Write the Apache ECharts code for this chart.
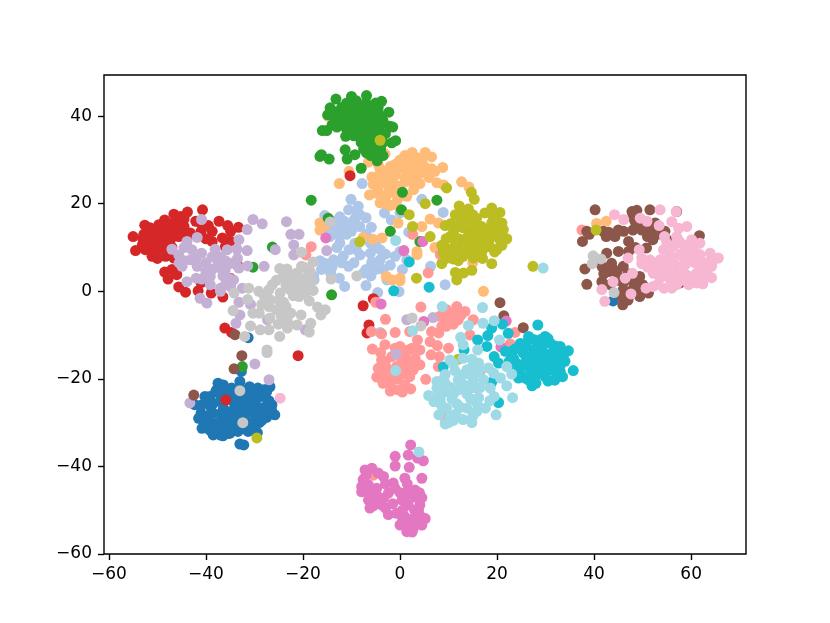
<!DOCTYPE html>
<html><head><meta charset="utf-8">
<script src="https://cdn.jsdelivr.net/npm/echarts@6/dist/echarts.min.js"></script>
<style>html,body{margin:0;background:#fff}#c{width:830px;height:623px}</style></head>
<body><div id="c"></div>
<script>
const xTicks=[-60,-40,-20,0,20,40,60];
const yTicks=[-60,-40,-20,0,20,40];
const blue=[[-37.5,-21],[-36.4,-21.4],[-33,-20.6],[-32.7,-18.3],[-34.7,-22.1],[-40.2,-24],[-42.3,-25.9],[-41,-27.8],[-38.5,-25.6],[-39.2,-24],[-36.4,-23.7],[-33.7,-24.4],[-31,-21.8],[-29.3,-22.1],[-26.8,-21.8],[-28.2,-24],[-26.4,-25.9],[-25.8,-28.2],[-27.5,-28.8],[-29.6,-26.3],[-31.6,-25.6],[-34,-26.3],[-36.4,-26.7],[-38.5,-27.8],[-40.5,-29.7],[-40.8,-31.3],[-38.8,-30.1],[-36,-29],[-33.7,-29.4],[-30.2,-30.1],[-28.9,-28.2],[-31.6,-27.8],[-38.5,-32.8],[-37.1,-32.8],[-35,-32.4],[-33.4,-32],[-31.3,-32],[-29.4,-32.3],[-36.8,-30.9],[-39.2,-31.7],[-33,-34.9],[-32.2,-35.1],[-29.4,-23.7],[-31.2,-23.7],[-37.8,-22.5],[43.9,-2.2],[-31.3,-10.6],
[-40,-25.5],[-38,-23],[-37,-25],[-35,-24],[-35,-23],[-32.5,-22.5],[-32,-24],[-30,-23],[-28,-22.5],[-27,-25],[-28,-26.5],[-30.5,-25],[-32.5,-26],[-33,-27.5],[-35,-27.5],[-37,-28],[-39.5,-28.5],[-37.5,-30],[-35,-30.5],[-34.5,-28.5],[-32,-29.5],[-30,-28],[-29,-30],[-27,-27.5],[-41.5,-29],[-40,-30.5],[-37,-31.5],[-35,-31.5],[-32.5,-31],[-30.5,-31.5],[-31,-30],[-39,-26.5],[-36.5,-33],[-33,-30.5],[-34.5,-25],[-30,-27],[-27.5,-23],[-35.5,-32.5],[-41,-26],[-38,-31.5],[-29.5,-24.5],[-33,-23],[-28.5,-29.5],[-26.5,-27]];
const lightBlue=[[-7.8,24.6],[-10.1,21],[4.5,21],[8.9,18],[-15.5,17.3],[-10.6,18.6],[-8.6,19.4],[-12.4,17],[-7,16.8],[-9.4,16.4],[-5.9,14.6],[-11.7,14.8],[-13.7,14.8],[-15.5,14],[-12.4,12.6],[-12.4,11],[-9,9.5],[-11.7,8],[-13.7,7.2],[-15.5,6.4],[-16.2,5],[-10.6,5.7],[-6.1,11],[-6.1,8.7],[-4.1,9.5],[-5.8,6.4],[-4.1,7.2],[-2,6],[-7.5,4.2],[-3.2,17.9],[-1.8,16.3],[1.8,13.5],[0,9.1],[1.4,7.2],[6.3,5.7],[0,17.9],[-1.2,23],[-9.3,11],[-8.3,17.5],[-10,13.7],[-8.3,14.8],[-17.8,3.4],[-14.3,4.2],[-15.7,5.3],[-17.7,2.6],[-11.4,1.1],[-7,1.3],[-4.6,-0.3],[-0.2,-0.1],[9.3,1.5],[-4.1,-9.4],[-2.7,2.6],[-7,5],[-5.8,6.7],[-8.2,8.3],
[-13.5,16],[-11.5,16],[-10,15.5],[-8.8,18],[-13,13],[-11,13],[-7,13],[-14.5,12.5],[-13,10],[-10.5,9.5],[-9.5,6.5],[-12,6.5],[-14,5.5],[-16.5,7],[-5,5],[-5,10.5],[-3,8.5],[-3.5,5],[-6,3.5],[0.5,5],[-12.5,3],[-1,8]];
const lightOrange=[[-12.5,24.6],[-10.5,27.4],[-6.5,29.5],[-3.1,31.4],[2.5,31.7],[5.2,31.7],[6.5,30.7],[8.8,28.3],[0,30],[1.4,30.2],[-4.1,27.8],[-5.8,26.1],[-5.5,24.4],[-6.3,22],[-4.1,20.2],[-2,19.6],[-4.8,22.4],[-2.7,22],[-3.4,26.3],[-2,25.5],[-0.7,27.8],[0.7,28.1],[2,27],[3.4,26.3],[4.1,24.6],[2.8,23.2],[1.4,21.7],[0,24],[-2.4,24],[-4.1,24.8],[-3.1,21],[-1,19.8],[2,29.3],[4.5,29.7],[7.2,27.4],[7.6,24.8],[9,24.3],[12.7,25],[14.2,23.8],[-0.4,15.6],[4.5,14.8],[6.2,16.5],[7.9,15.6],[-5.6,11.9],[-3.7,12.2],[-7.6,12.3],[3.5,9.1],[7.2,10],[15,6.6],[-2.8,3.4],[-16.5,15.6],[-15.2,15.2],[-16.5,14],[3.5,8.4],[0,3],[-14.9,40],[17.2,0],[0,2.4],[-1.6,2.6],[40.5,15.5],[42.5,16],
[1,31],[3.5,30.5],[-1,29],[1,29],[3,28.5],[5,28.5],[6.5,28],[-2,28.5],[-3,27.5],[-1,26.5],[1,26],[-1.5,24.8],[1,25],[2.5,25],[-5,26],[-4.5,23],[-1,22.5],[-0.5,21],[-3,20],[6,26],[5,27],[3.5,27.8],[-4.5,29]];
const green=[[-13.2,43.9],[-10,44.5],[-6.9,44.7],[-3.8,43.4],[-2.3,40.9],[-14.4,41.9],[-14.9,40.3],[-16,36.7],[-15.1,36.7],[-2.1,37.7],[-1.5,37.5],[-11.2,35.4],[-1.7,33.9],[-0.9,34.4],[-11.3,32.3],[-16.5,30.8],[-16.2,31.2],[-14.6,30.2],[-10.9,30.2],[-9.3,31.2],[-6.9,31.6],[-4.7,29.8],[-8,28.1],[-12,42],[-10,42],[-8,42],[-6,42],[-4.5,42],[-13.5,40],[-12,40],[-10.5,40],[-9,40],[-7,40],[-5.5,40],[-4,40],[-14,38],[-12,38],[-10.5,38],[-9,38],[-7.5,38],[-6,38],[-4,38],[-8.5,36],[-7,36],[-5.5,36],[-4,36],[-8,34],[-6.5,34],[-5,34],[-3.5,34],[-7.5,32.5],[-5.5,32.5],[-4,32.5],[-18.3,20.8],[-14.8,16.7],[0.5,22.6],[7.6,20.8],[0.3,18.6],[-2,13.7],[4.1,11.4],[-26.3,10.1],[-30.3,5.5],[-14.1,-0.8],[-32.5,-17.2],
[-13,41],[-11,43],[-9,43.5],[-7,43],[-5,43],[-11,41],[-9.5,41],[-8,41],[-6,41],[-4.5,41],[-13,39],[-11.5,39],[-10,39],[-8,39],[-6.5,39],[-5,39],[-3.5,39],[-13,37.5],[-11,37],[-9.5,37],[-7.8,37],[-6,37],[-4.5,37],[-9.5,35.5],[-7.5,35],[-6,35],[-4.5,35],[-3,36],[-7,33],[-6,31],[-5,31],[-3.5,31],[-4.5,30.5]];
const red=[[-55,12.5],[-54.5,9.3],[-52.6,15.1],[-51.1,8],[-49.7,15.2],[-48.5,16.3],[-46.6,17.6],[-43.8,18.1],[-40.7,18.6],[-37.3,16],[-34.9,13.7],[-33.3,14.6],[-38.7,13.7],[-36.6,12.2],[-41,13.7],[-42.1,16],[-45.2,17.1],[-52.8,13],[-53.1,10.6],[-51.8,9.9],[-50.7,13.3],[-49.3,13.3],[-48,14],[-46.3,14.4],[-44.5,14.8],[-43.2,13.3],[-48.7,11],[-50.7,11],[-47.3,11.8],[-45.6,12.5],[-50,9.5],[-48.3,8],[-46.6,7.6],[-38.7,11.4],[-36,10.2],[-48.5,4.4],[-47.8,2.8],[-46,3.8],[-45.6,1],[-44.2,-0.2],[-41.6,0.1],[-38.9,-0.4],[-36.5,-1.3],[-36.1,-8.4],[-34.7,-9.4],[-21,-14.7],[-33.5,6],[-51.8,13],[-49.7,11.8],[-48.7,13.3],[-46.6,12.8],[-52.1,11.8],[-10.3,26.4],[-35.9,-24.8],[-7.6,-3.3],[-5.5,-1.7],[-6.4,-7.7],[-6.8,-9.5],
[-53,12],[-51.5,14.5],[-50,14],[-49,15],[-47.5,15.5],[-46,16],[-44.5,16.5],[-41,15.5],[-47.5,13],[-45,13.5],[-44,12],[-51.5,11],[-49,10],[-47,10],[-52.5,9.5],[-50,7.5],[-47.5,9],[-40,12],[-39.5,15],[-35.5,15],[-35,11.5],[-47,5],[-41,2],[-35,3]];
const lightRed=[[4.3,-3.6],[8.2,-5.7],[9.6,-4.2],[11.7,-3.5],[13.4,-4.6],[10.3,-6.5],[12,-6.5],[15.1,-6.5],[8.6,-8],[6.5,-9.2],[6.2,-11.5],[7.7,-12.4],[10,-13],[3.6,-11.1],[2,-9.2],[-1,-9.4],[-3,-6.4],[-3.8,-9.7],[-5.9,-9.2],[-5.7,-13.2],[-3.1,-12.2],[0,-12.6],[4.1,-13.4],[6.4,-14.5],[8.1,-14.9],[1.7,-13.4],[-3.8,-15.7],[-1.7,-14.9],[0.4,-15.7],[3.1,-15.3],[4.1,-16.8],[-4.5,-17.6],[-2.7,-17.6],[-0.7,-17.2],[1.4,-17.6],[2.7,-18],[-4.8,-19.6],[-3.1,-19.8],[-1.4,-19.4],[0.4,-19],[5.3,-20.1],[-0.4,-22.5],[-2,-22.8],[2.2,-22.3],[1,-21.4],[-2,-21.3],[7.9,-17.2],[14.4,-10],[23.7,-9.4],[22.7,-12],[16.5,-18.3],[15.5,-22],[9.3,-29],[-18.3,10.2],[2.6,13],[5.8,4.2],[8.3,8.4],[15.6,9.5],[-19.4,8.3],[-5,-2.5],[37.5,14],[11,-5],[9.5,-7],[-5.5,-42],
[-4,-14],[-1,-13],[1,-14.5],[2.5,-13],[-3,-16],[1.5,-16],[3,-17],[-3.8,-18.5],[0,-18],[2,-19.5],[-0.5,-20],[-3.5,-21],[0.5,-23],[9,-5],[10.5,-5],[12.5,-5.5],[11,-7.5],[12,-4.5],[9.5,-8],[8,-9.5]];
const lightPurple=[[-40.9,16.4],[-30.3,16.4],[-28.4,15.4],[-31.5,14.1],[-23.4,15.9],[-22.5,13],[-20.8,13],[-21.9,10.6],[-21.9,8.3],[-25.7,9.5],[-15.1,9.3],[-28,5.7],[-29.9,-16.6],[-47,9.6],[-43.9,11.4],[-41.8,12.3],[-45.6,8.3],[-42.9,9.5],[-40.9,8.7],[-44.9,5.7],[-43.2,7.2],[-41.8,5.7],[-43.9,2.2],[-38.7,7.9],[-38.1,9.6],[-37,7.9],[-35.6,9.5],[-33.6,9.6],[-31.5,9.3],[-33.2,11.8],[-34.9,6.4],[-33.2,5.3],[-31.4,5.8],[-38.7,5],[-37,5.3],[-40.9,2.8],[-39.1,3.4],[-35.3,3],[-34.3,2.6],[-39.1,1.5],[-37,0.7],[-34.9,1],[-32.5,0.7],[-41.2,-1.6],[-39.8,-2.7],[-37,0],[-33.2,-2.5],[-30.8,-3],[-33,-5.4],[-33.8,-7.3],[-27.3,-6.5],[-19.5,-8.8],[-27,-20.2],[-43.3,-25.5],[1.4,-6.5],[6.8,-6],[-0.8,-14.3],
[-44.5,10],[-44.5,7],[-42,7.5],[-40,6.5],[-37.5,6.5],[-36,7],[-42,3],[-36.5,3.5],[-33.5,7.5],[-40,4.5],[-36,1.5],[-45.5,6.5],[-39.5,5],[-36,5]];
const brown=[[40.2,18.6],[37.6,11.4],[38.5,13.7],[41.9,13.7],[44.3,12.5],[46.1,13.7],[47.1,11.4],[38.1,5.1],[38.5,1.6],[47.8,18.2],[48.8,18.5],[51.5,18.6],[57,18.2],[49.8,14],[48.4,16],[52.1,11.8],[54.6,13.7],[61.7,12.7],[55,11.8],[42.6,8.7],[45,9.1],[47.1,9.1],[50.8,9.9],[41.6,5.7],[43.6,6.4],[46,5.7],[44.7,4.1],[41.6,2.2],[43.3,1.5],[46,0.4],[48.1,1.9],[49.4,3.4],[48.8,0.7],[49.4,-1.2],[51.2,-0.4],[45.9,-3.1],[45.7,-1.2],[57.7,1.9],[53.9,5.3],[51.5,14],[52.6,15.6],[43,4.5],[46.7,3],[20.6,-2.6],[21.4,-5.6],[25.4,-8.3],[-32.6,-14.7],[-34.2,-17.7],[-42.5,-23.7],[-34,-9.9],[11.8,9.5],
[39,13],[42.5,12.5],[43,13.5],[45,14],[48,14],[49,15.5],[50.5,15],[48,17],[42,4],[44,5],[45,2.5],[47,4],[46,2],[47.5,0],[50,1.5],[48.5,10],[51,12.5],[53,13],[47,-2]];
const pink=[[-15.3,12.2],[0.8,9.3],[4.7,11.4],[-3.9,-2.9],[4.9,-6.9],[21.9,-6.8],[20.8,-12.7],[2.2,-35.1],[1.7,-37.4],[-1,-37.7],[-1,-39.9],[1.9,-40.2],[3.6,-38.1],[4.8,-38.7],[4.5,-42.7],[1,-42.7],[-5.8,-40.4],[-7.2,-40.8],[-3.4,-42.3],[-7.6,-43],[-7.9,-45.8],[-6.5,-44.2],[-4.8,-45],[-1.4,-43.8],[-2.4,-46.1],[-6.5,-47.7],[-4.8,-48],[-6.2,-49.5],[-3.8,-48.8],[-2.4,-51],[-0.7,-50.7],[0.4,-47.7],[3.1,-45.4],[4.5,-47.1],[1.4,-45.8],[1.7,-48.8],[3.8,-49.9],[5.2,-51.9],[4.5,-53.4],[1.4,-54.9],[2.7,-54.2],[0,-53.4],[1,-51.5],[2.7,-51.9],[-4.8,-46.5],[-6.2,-46],[-3.4,-47.3],[-7.9,-44.6],[1.4,-53.4],[4.1,-48.8],[1,-47],
[-7,-42],[-4.5,-41.5],[-6.5,-46],[-5.5,-45.5],[-3,-44],[-1,-45],[-5.5,-49],[-3,-49.5],[-1.5,-48.5],[0,-46],[0.5,-50],[3,-47],[3,-50],[2,-53],[3.5,-53],[4,-51],[2.5,-55],[0.5,-52.5],[4,-46],[1.5,-44]];
const lightPink=[[44.2,17.5],[46.1,16.4],[49.5,16.7],[50.9,16],[53.6,18.6],[56.9,18.2],[53.4,15],[56,15.9],[57.4,14.4],[59.1,14.8],[49.3,9.5],[47,7.6],[49.8,6.3],[47.9,4.1],[46.4,3],[43.9,2.2],[41.6,0.4],[42.2,-2.3],[47.6,-0.6],[50.7,0.7],[52.1,1.1],[49.8,7.6],[51.5,7.2],[52.2,4.1],[57,12.5],[60.1,11.8],[61.8,11],[56.4,10.3],[58.5,10.6],[54.3,9.5],[53.6,7.2],[55.7,8],[57.7,8.4],[59.8,9.1],[61.8,8.4],[63.9,8.7],[65.6,7.6],[56.7,6.1],[58.8,6.1],[60.8,6.5],[62.9,6.5],[64.2,5.7],[55,5],[57,4.1],[59.1,3.7],[61.1,4.1],[63.2,4.5],[64.2,3.1],[53.6,3],[55.7,2.6],[61.1,1.9],[62.4,1.7],[54.4,0.7],[56,0.7],[59.5,1.5],[57.7,3],[60.1,7.2],[58.5,7.6],[52.9,5.7],[-24.7,-24.4],
[55,11],[57.5,11.5],[60.5,10],[55.5,9],[58.5,9],[60.5,9],[54.5,7],[56,7],[59,7.5],[61.5,7],[64.5,7],[54,5],[58,5],[62,5.5],[55,3.5],[58.5,2.5],[60.3,3],[62.5,3],[57,1.5],[53,1.5],[51,5.5],[54.5,12.5]];
const gray=[[-14.4,15.8],[-20.3,8.9],[-17.9,6.7],[-14.2,2.8],[-24.8,5.2],[-23.3,5.1],[-24.3,3],[-19.8,5.5],[-21.2,4.2],[-19.1,3.4],[-18.1,2.3],[-19.8,1.9],[-21.9,1.9],[-26.3,1.5],[-27,0.4],[-29.1,0],[-31.2,0.7],[-34.2,-0.4],[-31.4,-1.9],[-22.6,0.3],[-24.7,-0.4],[-26.8,-1.9],[-28.5,-3],[-25.5,-4.2],[-23.5,-3.5],[-20.8,-1.2],[-18.7,-2.2],[-17.9,0.2],[-34.4,-4.4],[-30.3,-5],[-30.8,-7.9],[-26.8,-6.1],[-28.8,-8.8],[-27,-8.8],[-25.1,-7.5],[-23.2,-6.9],[-23.2,-8.4],[-21.2,-7.7],[-20.4,-5.4],[-18.4,-7.3],[-18.7,-9.3],[-24.8,-10.3],[-17,-3.6],[-16.3,-5.4],[-15.4,-4.2],[-32,-10.3],[-27.4,-13.4],[-27.4,-14],[-20.3,5.7],[-22.3,3.8],[-25,-2],[-20,1],[-33,-22.7],[-32.4,-30],[39.8,8.1],[39.6,6.3],[41.4,7.4],[44.1,-0.3],[2.5,-6.1],[4.3,-7.9],[-8.9,3.5],
[-23,3],[-18.5,4.5],[-25.5,2.5],[-23.5,1.5],[-20.5,2.5],[-22,-1],[-24,-2.5],[-28,-1],[-27,-3.5],[-29,-5],[-24.5,-5.5],[-22.5,-5],[-19.5,-0.5],[-19,1],[-21.5,0]];
const olive=[[12.2,19.5],[14.1,18.8],[11.4,17.5],[9.6,23.6],[14.7,22.6],[15.3,21],[18.9,19],[20.6,18],[21,15.6],[22,12],[20,9.6],[18.9,6.3],[14.8,4.8],[13.1,4.2],[11.4,4.3],[8.6,6.3],[10.9,7.4],[8.6,10.5],[8.9,8.8],[9.3,15],[10.3,12.5],[15.8,16.7],[17.5,17.9],[13.8,16.3],[11.7,14.8],[14.5,14],[16.8,14.8],[18.9,15.6],[20,13.4],[17.5,12.5],[15.5,11.8],[13,11.8],[11.4,10.7],[13.8,9],[15.1,7.6],[16.8,8.8],[18.5,10.2],[20.6,11.7],[12.1,9.8],[9.6,9.8],[16.5,11],[15.1,9.5],[21.3,14.1],[-4.1,34.5],[5.2,20],[1.9,17.5],[2.6,14.8],[6.2,12.5],[-8.3,11.3],[3.4,3],[27.4,5.7],[11.7,2.6],[12,-15.5],[-29.5,-33.5],[40.4,14],
[13,18],[15,17.5],[19,17.5],[20,16],[12.5,16],[10.5,15.5],[13,14.5],[15.5,15],[18,14],[19.5,14.5],[11,13.5],[14,12.5],[16,13],[18.5,12],[21,10.5],[9.5,12],[12,12],[14,11],[17.5,10],[19.5,9],[11,9],[13,8],[17,7.5],[9.5,7.5],[12,7]];
const cyan=[[6,0.95],[-1.3,0.1],[28.4,-7.7],[35.7,-18.1],[34.7,-13.6],[27.2,-21.6],[20.3,-25.4],[18.9,-20.8],[8.9,-17.3],[13.2,-13.4],[16,-11.1],[17.9,-12.6],[18.1,-10.1],[18.9,-8.4],[21.1,-7.5],[22.3,-9.6],[19.4,-14.9],[20.3,-16.4],[21.7,-13.7],[23.4,-13.4],[24.8,-11.9],[26.5,-10.3],[29.9,-10.3],[28.2,-11.5],[31,-11.9],[25.4,-14.1],[27.5,-13.4],[29.5,-13.8],[31.6,-13.8],[33.7,-14.5],[24,-16.4],[26.1,-16],[28.2,-15.7],[30.2,-15.7],[32.3,-16.4],[34,-16],[24.7,-18.7],[26.8,-17.9],[28.9,-18.3],[30.9,-17.9],[33,-18.3],[25.8,-19.8],[27.8,-19.5],[29.9,-19.5],[31.9,-20.3],[24.4,-19.8],[29.2,-12.6],[33,-12.6],[23.4,-15.3],[25.8,-11.9],[1.9,6.7],
[24,-13],[26,-12.5],[27.5,-11],[29,-11],[30.5,-10.8],[32,-12.5],[23,-14.5],[26,-15],[27.5,-15],[29,-14.8],[30.8,-14.8],[32.5,-15],[22.5,-16],[25,-17],[27,-16.8],[29,-17],[31,-16.8],[33,-17],[23.5,-18],[28,-18.3],[30,-18.6],[32,-18.5],[26.5,-20.3],[30.5,-20.5],[28,-21],[33.5,-19.5]];
const lightCyan=[[8.7,-3.5],[17,-3.7],[17.1,-7.3],[19.4,-6.7],[14.1,-7.8],[2.6,-9],[-0.9,-18.1],[20.5,-11.1],[22,-17.2],[23,-18.9],[20.7,-19.8],[22,-21.6],[23.2,-24.3],[19.4,-24],[19.8,-28.2],[18.2,-17.5],[19.3,-18.7],[12.5,-10.5],[13,-12.2],[16,-13.4],[10.3,-15.7],[13,-15.3],[14.8,-15.5],[16.2,-16.4],[11.3,-18.1],[13.8,-17.9],[16.2,-18.3],[9.3,-19],[7.6,-20.6],[9.3,-21],[12,-20.2],[15.1,-20.2],[17.2,-20.2],[18.6,-22.1],[7.6,-22.1],[5.9,-23.8],[7,-25.2],[9,-23.1],[10.7,-24.6],[13.8,-23.5],[16.2,-24.3],[17.6,-26.7],[9.6,-26.7],[8,-28.2],[11.7,-25.7],[13.8,-26.7],[15.8,-27.5],[10.3,-28.6],[9.3,-30.3],[14.8,-30],[13,-29.3],[12,-22.5],[12.7,-21],[8.3,-24.8],[-0.9,11.6],[3.9,-36.7],[29.5,5.3],
[11,-16.5],[15,-17],[9,-20],[13,-19],[14.5,-19],[10.5,-22],[13.5,-21.5],[15,-22],[16.5,-22],[8,-23.5],[11,-23.5],[14.5,-24.5],[15.5,-25],[8.5,-26],[12.5,-26.5],[16,-26],[18.5,-25],[11.5,-28],[15,-28.5],[11,-29.5],[10,-30]];
const classes=[[blue,'#1f77b4'],[lightBlue,'#aec7e8'],[lightOrange,'#ffbb78'],[green,'#2ca02c'],[red,'#d62728'],[lightRed,'#ff9896'],[lightPurple,'#c5b0d5'],[brown,'#8c564b'],[pink,'#e377c2'],[lightPink,'#f7b6d2'],[gray,'#c7c7c7'],[olive,'#bcbd22'],[cyan,'#17becf'],[lightCyan,'#9edae5']];
const fmt=v=>String(v).replace('-','\u2212');
const axis=(ticks,min,max,pad)=>({type:'value',min,max,splitLine:{show:false},
  axisLine:{show:false,onZero:false},
  axisTick:{show:true,customValues:ticks,length:6,lineStyle:{color:'#000',width:1.4}},
  axisLabel:{show:true,customValues:ticks,formatter:fmt,color:'#000',fontFamily:'DejaVu Sans',fontSize:17,margin:12,padding:pad}});
const chart=echarts.init(document.getElementById('c'),null,{renderer:'canvas'});
chart.setOption({animation:false,backgroundColor:'#fff',
  grid:{left:104,right:84,top:75,bottom:69,show:true,borderColor:'#000',borderWidth:1.4,backgroundColor:'transparent'},
  xAxis:axis(xTicks,-61,71.3,0),yAxis:axis(yTicks,-60,49.4,[3,0,0,0]),
  series:classes.map(([d,c])=>({type:'scatter',data:d,symbolSize:11,itemStyle:{color:c,opacity:1},silent:true}))});
</script></body></html>
